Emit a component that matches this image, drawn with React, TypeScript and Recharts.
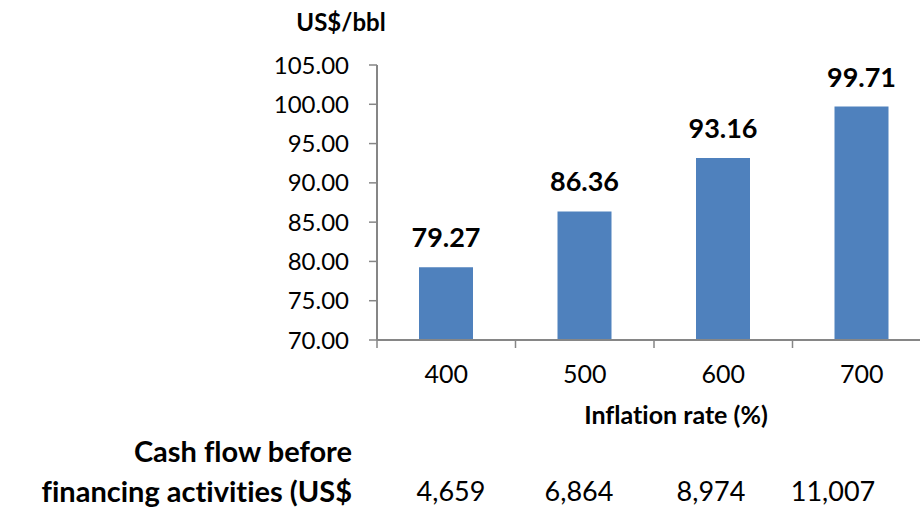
import React from 'react';
import { BarChart, Bar, XAxis, YAxis, LabelList, Label } from 'recharts';

const rates = ['400', '500', '600', '700'];
const prices = [79.27, 86.36, 93.16, 99.71];
const priceTicks = [70, 75, 80, 85, 90, 95, 100, 105];
const cashFlows = ['4,659', '6,864', '8,974', '11,007'];
const cashFlowLabel = ['Cash flow before', 'financing activities (US$'];

const data = rates.map((rate, i) => ({ rate, price: prices[i] }));

const FONT = 'Lato, "Open Sans", sans-serif';
const AXIS = '#868686';
const CHART_W = 931;
const Y_AXIS_W = 377;
const HALF_BAND = (CHART_W - Y_AXIS_W) / (rates.length * 2);

const CategoryTick = (props: any) => {
  const { x, y, payload } = props;
  return (
    <g>
      <line x1={x - HALF_BAND} y1={y - 8} x2={x - HALF_BAND} y2={y} stroke={AXIS} strokeWidth={1.5} />
      <text x={x} y={y} dy={35} textAnchor="middle" fill="#000" fontSize={25} fontFamily={FONT}>
        {payload.value}
      </text>
    </g>
  );
};

const cashX = [451, 579, 711, 833];

export default function App() {
  return (
    <div style={{ position: 'absolute', left: 0, top: 0, width: 920, height: 510, background: '#fff', fontFamily: FONT, fontVariantLigatures: 'none' }}>
      <div style={{ position: 'absolute', left: 0, top: 0, width: 920, height: 440, overflow: 'hidden' }}>
        <BarChart width={CHART_W} height={440} data={data} margin={{ top: 65, right: 0, left: 0, bottom: 0 }}>
          <YAxis
            width={Y_AXIS_W}
            domain={[70, 105]}
            ticks={priceTicks}
            tickFormatter={(v: number) => v.toFixed(2)}
            axisLine={{ stroke: AXIS, strokeWidth: 2 }}
            tickLine={{ stroke: AXIS, strokeWidth: 1.5 }}
            tickSize={8}
            tickMargin={20}
            tick={{ fill: '#000', fontSize: 24, fontFamily: FONT }}
            allowDataOverflow
          >
            <Label
              content={(p: any) => (
                <text x={p.viewBox.x + p.viewBox.width - 36} y={31} textAnchor="middle" fontWeight="bold" fontSize={24} fill="#000" fontFamily={FONT}>
                  US$/bbl
                </text>
              )}
            />
          </YAxis>
          <XAxis
            dataKey="rate"
            height={100}
            axisLine={{ stroke: AXIS, strokeWidth: 2 }}
            tickLine={false}
            tickSize={8}
            tickMargin={0}
            tick={<CategoryTick />}
            interval={0}
          >
            <Label
              content={(p: any) => (
                <text x={p.viewBox.x + p.viewBox.width / 2 + 22} y={p.viewBox.y + 84} textAnchor="middle" fontWeight="bold" fontSize={25} fill="#000" fontFamily={FONT}>
                  Inflation rate (%)
                </text>
              )}
            />
          </XAxis>
          <Bar dataKey="price" fill="#4F81BD" barSize={54} isAnimationActive={false}>
            <LabelList
              dataKey="price"
              position="top"
              offset={20}
              formatter={(v: any) => Number(v).toFixed(2)}
              fill="#000"
              fontSize={27}
              fontWeight="bold"
              fontFamily={FONT}
            />
          </Bar>
        </BarChart>
      </div>
      {cashFlowLabel.map((t, i) => (
        <div
          key={t}
          style={{ position: 'absolute', right: 920 - 352, top: 436 + i * 40, fontSize: 29, fontWeight: 'bold', color: '#000', whiteSpace: 'nowrap', lineHeight: '30px' }}
        >
          {t}
        </div>
      ))}
      {cashFlows.map((v, i) => (
        <div
          key={v}
          style={{ position: 'absolute', left: cashX[i] - 60, width: 120, top: 476, textAlign: 'center', fontSize: 27, color: '#000', lineHeight: '30px' }}
        >
          {v}
        </div>
      ))}
    </div>
  );
}
